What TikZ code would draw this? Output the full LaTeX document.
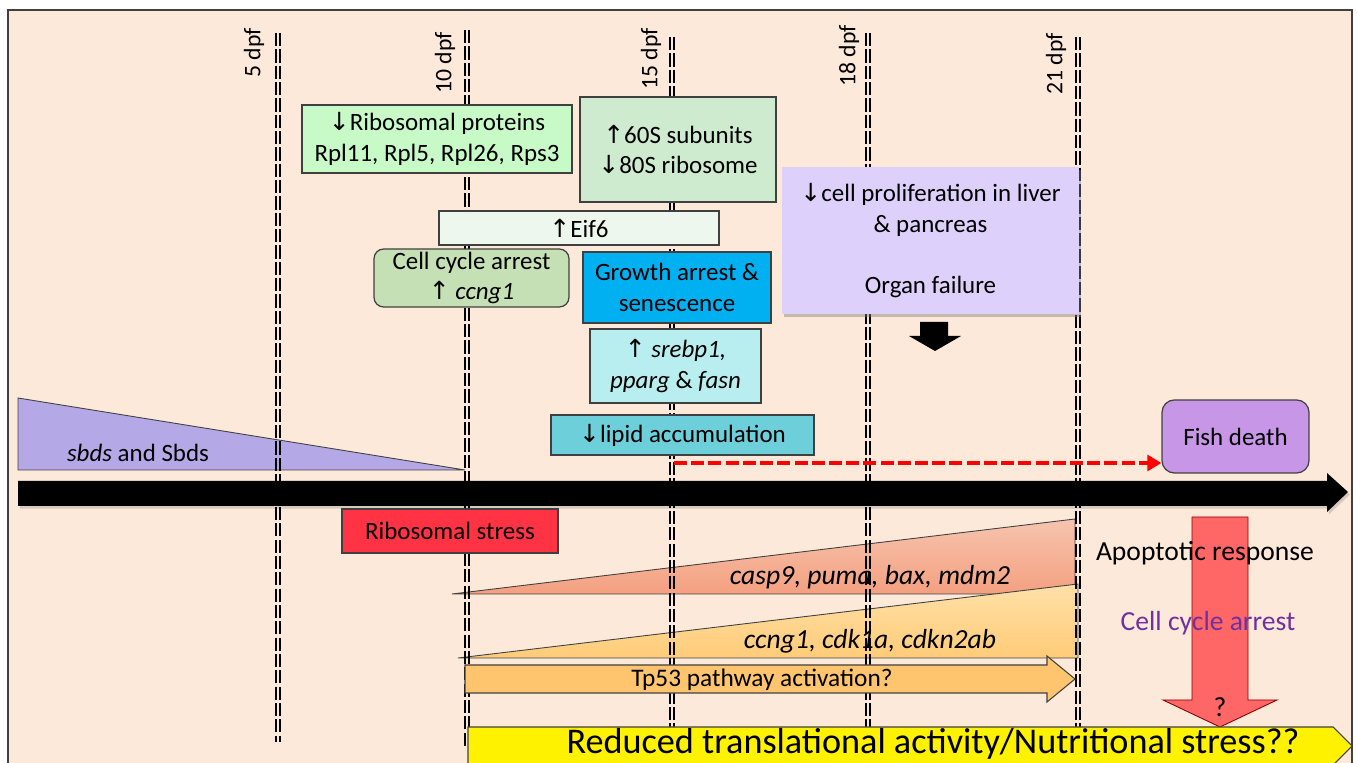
\documentclass[tikz,border=0pt]{standalone}
\usepackage{fontspec}
\setmainfont{Carlito}
\newfontfamily\arrf{DejaVu Sans}
\usetikzlibrary{shadows,arrows.meta}
\newcommand\upar{{\arrf\symbol{"2191}}}
\newcommand\dnar{{\arrf\symbol{"2193}}}
\definecolor{peach}{HTML}{FDE9D9}
\definecolor{ribg}{HTML}{C8FAC8}
\definecolor{sixty}{HTML}{CEEBD0}
\definecolor{eifc}{HTML}{EEF7EE}
\definecolor{ccac}{HTML}{C5E0B4}
\definecolor{groc}{HTML}{00B0F0}
\definecolor{srec}{HTML}{B8EEF0}
\definecolor{lipc}{HTML}{6DCFD9}
\definecolor{orgc}{HTML}{DDD0FB}
\definecolor{fishc}{HTML}{C896E6}
\definecolor{sbdsc}{HTML}{B4A8E6}
\definecolor{rstc}{HTML}{FF3344}
\definecolor{tpc}{HTML}{FFC46E}
\definecolor{redar}{HTML}{FF6666}
\definecolor{ccpurp}{HTML}{7030A0}
\definecolor{edge}{HTML}{404040}
\definecolor{casptop}{HTML}{F6C4AE}
\definecolor{caspbot}{HTML}{F4A080}
\definecolor{ccngtop}{HTML}{FFE0A8}
\definecolor{ccngbot}{HTML}{FFCC78}
\begin{document}
\begin{tikzpicture}[x=0.02cm,y=-0.02cm,
  txt/.style={font=\fontsize{14.2}{17.5}\selectfont},
  big/.style={font=\fontsize{15.7}{19}\selectfont},
  box/.style={draw=edge, line width=0.7pt, align=center, inner sep=0pt, txt},
  vl/.style={line width=1.3pt, dash pattern=on 7.5pt off 1.8pt},
  lbl/.style={rotate=90, anchor=east, inner sep=0pt, font=\fontsize{13.5}{16}\selectfont},
  tri/.style={draw=edge, line width=0.5pt}]
\useasboundingbox (0,0) rectangle (1357,763);
\fill[white] (0,0) rectangle (1357,763);
\draw[fill=peach, draw=edge, line width=0.8pt] (8,10) rectangle (1352,780);

% triangles
\filldraw[tri, fill=sbdsc] (18,398) -- (465,470) -- (18,470) -- cycle;
\node[txt] (sbds) at (138,453) {\textit{sbds} and Sbds};
\shadedraw[tri, top color=casptop, bottom color=caspbot] (452,594) -- (1075,519) -- (1075,594) -- cycle;
\shadedraw[tri, top color=ccngtop, bottom color=ccngbot] (458,658) -- (1078,584) -- (1078,658) -- cycle;

% timeline
\fill[black, drop shadow={opacity=0.3, shadow xshift=1pt, shadow yshift=-1.5pt}]
  (18,481) -- (1327,481) -- (1327,473) -- (1348,492) -- (1327,512) -- (1327,506) -- (18,506) -- cycle;

% vertical double dashed lines
\foreach \n/\x/\ya/\yb in {5/278/33/742, 10/467/30/747, 15/672/37/727, 18/868/33/727, 21/1078/37/727}{
  \coordinate (l\n t) at (\x,\ya);
  \coordinate (l\n b) at (\x,\yb);
  \draw[vl] (\x-2.3,\ya) -- (\x-2.3,\yb);
  \draw[vl] (\x+2.3,\ya) -- (\x+2.3,\yb);
}
\node[lbl] (d5) at (254,28) {5 dpf};
\node[lbl] (d10) at (445,32) {10 dpf};
\node[lbl] (d15) at (651,28) {15 dpf};
\node[lbl] (d18) at (849,25) {18 dpf};
\node[lbl] (d21) at (1056,33) {21 dpf};

% boxes
\node[box, fill=ribg, minimum width=5.4cm, minimum height=1.36cm] (rib) at (437,139)
  {\dnar Ribosomal proteins\\Rpl11, Rpl5, Rpl26, Rps3};
\node[box, fill=sixty, minimum width=3.92cm, minimum height=2.1cm] (s60) at (678,149.5)
  {\upar 60S subunits\\\dnar 80S ribosome};
\node[box, fill=eifc, minimum width=5.6cm, minimum height=0.68cm] (eif) at (579,228) {\upar Eif6};
\node[box, fill=ccac, rounded corners=5.5pt, minimum width=3.9cm, minimum height=1.16cm] (cca) at (471.5,278)
  {Cell cycle arrest\\\upar\ \textit{ccng1}};
\node[box, fill=groc, minimum width=3.76cm, minimum height=1.42cm] (gro) at (677,287.5)
  {Growth arrest \&\\senescence};
\node[box, fill=srec, minimum width=3.42cm, minimum height=1.48cm] (sre) at (675.5,366)
  {\upar\ \textit{srebp1,}\\\textit{pparg} \& \textit{fasn}};
\node[box, fill=lipc, minimum width=5.26cm, minimum height=0.8cm] (lip) at (682.5,435)
  {\dnar lipid accumulation};
\node[box, fill=orgc, draw=none, minimum width=5.94cm, minimum height=2.94cm,
  drop shadow={opacity=0.45, shadow xshift=1pt, shadow yshift=-1.5pt}] (org) at (930.5,240.5)
  {\dnar cell proliferation in liver\\\& pancreas\\[17.5pt]Organ failure};
\node[box, fill=fishc, rounded corners=7pt, minimum width=2.94cm, minimum height=1.46cm] (fish) at (1235.5,436.5)
  {Fish death};
\node[box, fill=rstc, minimum width=4.32cm, minimum height=0.88cm] (rst) at (450,531)
  {Ribosomal stress};

% small black arrow below organ box
\fill[black] (920,322) -- (948,322) -- (948,336) -- (961,336) -- (935,351) -- (909,336) -- (920,336) -- cycle;

% red dashed arrow to fish death
\coordinate (redst) at (674,463);
\draw[red, line width=2.5pt, dash pattern=on 7.4pt off 2.4pt, -{Triangle[length=8pt,width=9pt]}]
  (redst) -- (redst -| fish.west);

% triangle texts
\node[big] (casp) at (870,577) {\textit{casp9, puma, bax, mdm2}};
\node[big] (ccng) at (870,641) {\textit{ccng1, cdk1a, cdkn2ab}};

% Tp53 arrow
\filldraw[fill=tpc, draw=edge, line width=0.6pt]
  (465,665) -- (1047,665) -- (1047,656) -- (1075,679) -- (1047,702) -- (1047,693) -- (465,693) -- cycle;
\node[font=\fontsize{14.4}{17}\selectfont] (tp53) at (762,680) {Tp53 pathway activation?};

% big red arrow
\filldraw[fill=redar, draw=red!55!black, line width=0.5pt]
  (1192,517) -- (1248,517) -- (1248,700) -- (1277,700) -- (1220,727) -- (1163,700) -- (1192,700) -- cycle;
\node[big] (apo) at (1205,553) {Apoptotic response};
\node[big, text=ccpurp] (ccarr) at (1208,623) {Cell cycle arrest};
\node[big] (q) at (1220,707) {?};

% yellow arrow
\filldraw[fill=yellow, draw=edge, line width=0.6pt]
  (468,727) -- (1333,727) -- (1352,746) -- (1333,765) -- (468,765) -- cycle;
\node[font=\fontsize{20.6}{24}\selectfont, inner sep=1pt] (red) at (933,744) {Reduced translational activity/Nutritional stress??};
\end{tikzpicture}
\end{document}
